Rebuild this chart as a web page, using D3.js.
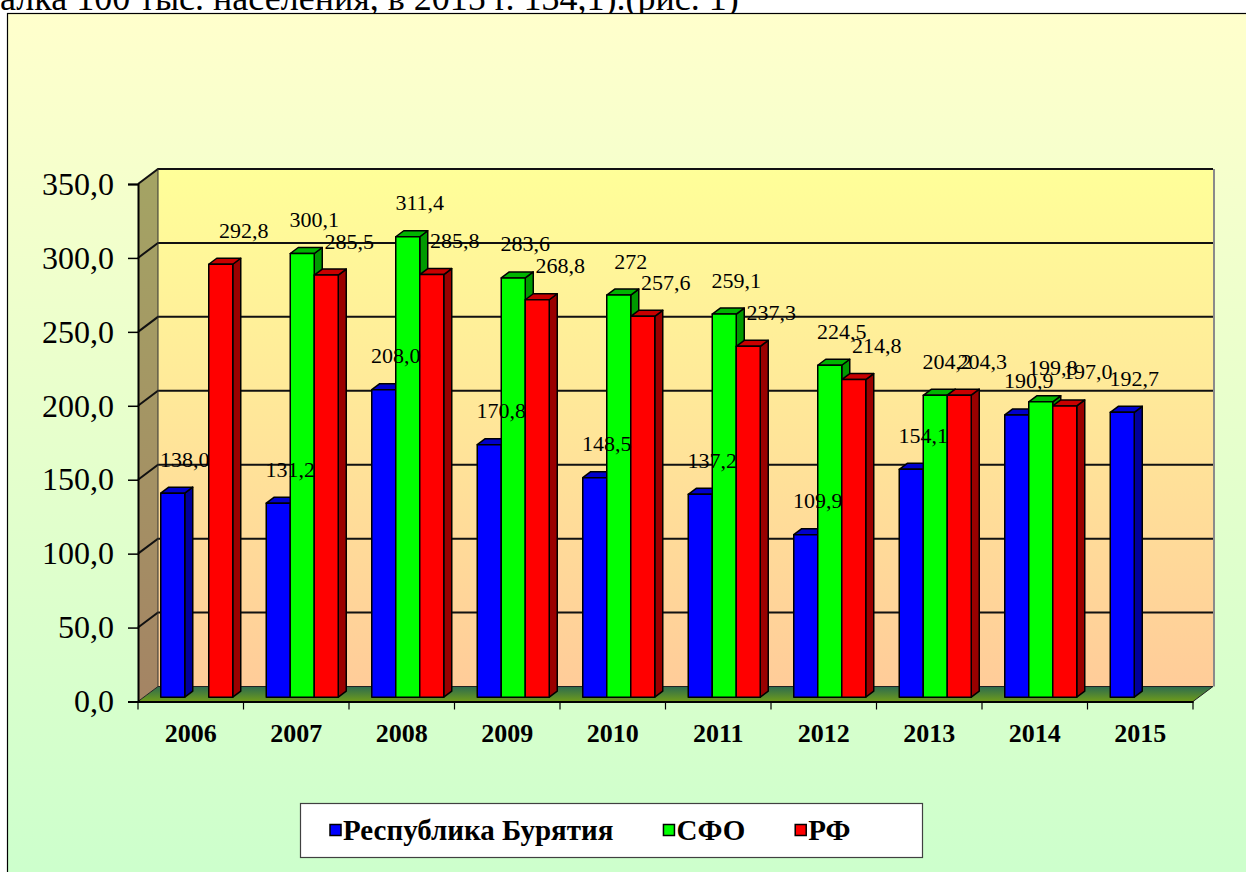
<!DOCTYPE html>
<html lang="ru">
<head>
<meta charset="UTF-8">
<title>Заболеваемость, Республика Бурятия / СФО / РФ</title>
<script src="https://cdn.jsdelivr.net/npm/d3@7"></script>
<style>
  body { margin: 0; background: #fff; }
  svg { display: block; }
  text { font-family: "Liberation Serif", "Times New Roman", serif; }
</style>
</head>
<body>
<script>
// values as printed on the chart (comma decimals)
var years = ["2006", "2007", "2008", "2009", "2010", "2011", "2012", "2013", "2014", "2015"];
var buryatia = ["138,0", "131,2", "208,0", "170,8", "148,5", "137,2", "109,9", "154,1", "190,9", "192,7"];
var sfo = [null, "300,1", "311,4", "283,6", "272", "259,1", "224,5", "204,2", "199,8", null];
var rf = ["292,8", "285,5", "285,8", "268,8", "257,6", "237,3", "214,8", "204,3", "197,0", null];
var yTicks = [0, 50, 100, 150, 200, 250, 300, 350];

var seriesNames = ["Республика Бурятия", "СФО", "РФ"];
var seriesData = [buryatia, sfo, rf];
var colors = [
  { front: "#0000ff", side: "#00009a", top: "#0000cc" },
  { front: "#00ff00", side: "#009a00", top: "#00b400" },
  { front: "#ff0000", side: "#9a0000", top: "#c80000" }
];

var W = 1246, H = 872;
var svg = d3.select("body").append("svg").attr("width", W).attr("height", H);
var defs = svg.append("defs");

function vgrad(id, stops) {
  var g = defs.append("linearGradient").attr("id", id)
    .attr("x1", 0).attr("y1", 0).attr("x2", 0).attr("y2", 1);
  stops.forEach(function (s) { g.append("stop").attr("offset", s[0]).attr("stop-color", s[1]); });
}
vgrad("bgGrad", [[0, "#ffffcc"], [1, "#ccffcc"]]);
vgrad("wallGrad", [[0, "#ffff99"], [1, "#ffcc99"]]);
vgrad("sideGrad", [[0, "#a4a464"], [1, "#a48464"]]);
vgrad("floorGrad", [[0, "#2c6a50"], [1, "#6f9c1a"]]);

// text of the page above the chart, cut by the crop
svg.append("text").attr("x", 0).attr("y", 10)
  .style("font-size", "36px").attr("fill", "#000")
  .text("алка 100 тыс. населения, в 2015 г. 134,1).(рис. 1)");

// chart area
svg.append("rect").attr("x", 7.5).attr("y", 13.5).attr("width", W).attr("height", H)
  .attr("fill", "url(#bgGrad)").attr("stroke", "#000").attr("stroke-width", 1.2);

// scales
var x0 = 138, x1 = 1193;
var DX = 20, DY = -15;           // depth of the plot box
var x = d3.scaleBand().domain(years).range([x0, x1]);
var y = d3.scaleLinear().domain([0, 350]).range([701.5, 184]);
var inner = d3.scaleBand().domain(d3.range(3)).range([0, 72]);
var fx = 6, fy = -4.3;           // bar front face inside the depth
var bx = 8, by = -6;             // bar depth

function num(s) { return +s.replace(",", "."); }

var plot = svg.append("g");

// back wall
plot.append("rect").attr("x", x0 + DX).attr("y", y(350) + DY)
  .attr("width", x1 - x0).attr("height", y(0) - y(350))
  .attr("fill", "url(#wallGrad)");
plot.append("line").attr("x1", x1 + DX + 1).attr("x2", x1 + DX + 1)
  .attr("y1", y(350) + DY).attr("y2", y(0) + DY)
  .attr("stroke", "#8a8a8a").attr("stroke-width", 2);

// left wall
plot.append("path")
  .attr("d", "M" + x0 + "," + y(350) + "L" + (x0 + DX) + "," + (y(350) + DY) +
    "L" + (x0 + DX) + "," + (y(0) + DY) + "L" + x0 + "," + y(0) + "Z")
  .attr("fill", "url(#sideGrad)");

// floor
plot.append("path")
  .attr("d", "M" + x0 + "," + y(0) + "L" + (x0 + DX) + "," + (y(0) + DY) +
    "L" + (x1 + DX) + "," + (y(0) + DY) + "L" + x1 + "," + y(0) + "Z")
  .attr("fill", "url(#floorGrad)").attr("stroke", "#222").attr("stroke-width", 1);

// gridlines on back and left walls
yTicks.filter(function (t) { return t > 0; }).forEach(function (t) {
  plot.append("polyline")
    .attr("points", x0 + "," + y(t) + " " + (x0 + DX) + "," + (y(t) + DY) + " " + (x1 + DX) + "," + (y(t) + DY))
    .attr("fill", "none").attr("stroke", "#111").attr("stroke-width", 2);
});
plot.append("line").attr("x1", x0 + DX).attr("x2", x0 + DX)
  .attr("y1", y(350) + DY).attr("y2", y(0) + DY).attr("stroke", "#333").attr("stroke-width", 1);

// axes
var yAxis = d3.axisLeft(y).tickValues(yTicks).tickSize(10).tickPadding(14)
  .tickFormat(function (d) { return d3.format(".1f")(d).replace(".", ","); });
var gy = svg.append("g").attr("transform", "translate(" + x0 + ",0)").call(yAxis);
gy.select(".domain").attr("stroke", "#000").attr("stroke-width", 2);
gy.selectAll(".tick line").attr("stroke", "#000").attr("stroke-width", 1.5);
gy.selectAll(".tick text").attr("fill", "#000")
  .style("font-family", "'Liberation Serif', serif").style("font-size", "32px");

var xAxis = d3.axisBottom(x).tickSize(0).tickPadding(22);
var gx = svg.append("g").attr("transform", "translate(0," + y(0) + ")").call(xAxis);
gx.select(".domain").attr("stroke", "#000").attr("stroke-width", 2);
gx.selectAll(".tick text").attr("fill", "#000")
  .style("font-family", "'Liberation Serif', serif").style("font-size", "26px")
  .style("font-weight", "bold");
gx.selectAll(".boundary").data(years.concat(["end"])).enter().append("line")
  .attr("x1", function (d, i) { return x0 + i * x.bandwidth(); })
  .attr("x2", function (d, i) { return x0 + i * x.bandwidth(); })
  .attr("y1", 0).attr("y2", 8).attr("stroke", "#000").attr("stroke-width", 1.2);

// bars
var bars = [];
years.forEach(function (yr, i) {
  seriesData.forEach(function (ser, s) {
    if (ser[i] == null) return;
    bars.push({ year: yr, s: s, label: ser[i], v: num(ser[i]) });
  });
});

var bw = inner.bandwidth();
function barX(d) { return x(d.year) + x.bandwidth() / 2 - 36 + inner(d.s) + fx; }

var gb = plot.append("g");
bars.forEach(function (d) {
  var left = barX(d), right = left + bw;
  var top = y(d.v) + fy, bottom = y(0) + fy;
  var g = gb.append("g").attr("stroke", "#000").attr("stroke-width", 1.5).attr("stroke-linejoin", "round");
  g.append("path")
    .attr("d", "M" + right + "," + top + "L" + (right + bx) + "," + (top + by) +
      "L" + (right + bx) + "," + (bottom + by) + "L" + right + "," + bottom + "Z")
    .attr("fill", colors[d.s].side);
  g.append("path")
    .attr("d", "M" + left + "," + top + "L" + (left + bx) + "," + (top + by) +
      "L" + (right + bx) + "," + (top + by) + "L" + right + "," + top + "Z")
    .attr("fill", colors[d.s].top);
  g.append("rect").attr("x", left).attr("y", top).attr("width", bw).attr("height", bottom - top)
    .attr("fill", colors[d.s].front);
});

// data labels, spread out sideways above each group
svg.append("g").selectAll("text").data(bars).enter().append("text")
  .attr("x", function (d) {
    var cx = x(d.year) + x.bandwidth() / 2 + 8 + (d.s - 1) * 45;
    return Math.max(cx, barX(d) + bw / 2 + 12);
  })
  .attr("y", function (d) { return y(d.v) + fy - 34; })
  .attr("text-anchor", "middle").attr("dominant-baseline", "central")
  .style("font-size", "22px").attr("fill", "#000")
  .text(function (d) { return d.label; });

// legend
var lg = svg.append("g");
lg.append("rect").attr("x", 300.5).attr("y", 803.5).attr("width", 622).attr("height", 54)
  .attr("fill", "#fff").attr("stroke", "#404040").attr("stroke-width", 1.2);
var lx = 330;
seriesNames.forEach(function (name, s) {
  lg.append("rect").attr("x", lx).attr("y", 824.5).attr("width", 11).attr("height", 11)
    .attr("fill", colors[s].front).attr("stroke", "#000").attr("stroke-width", 1.5);
  var t = lg.append("text").attr("x", lx + 13).attr("y", 830)
    .attr("dominant-baseline", "central")
    .style("font-size", "29px").style("font-weight", "bold").attr("fill", "#000")
    .text(name);
  lx += 13 + t.node().getComputedTextLength() + 50;
});
</script>
</body>
</html>
